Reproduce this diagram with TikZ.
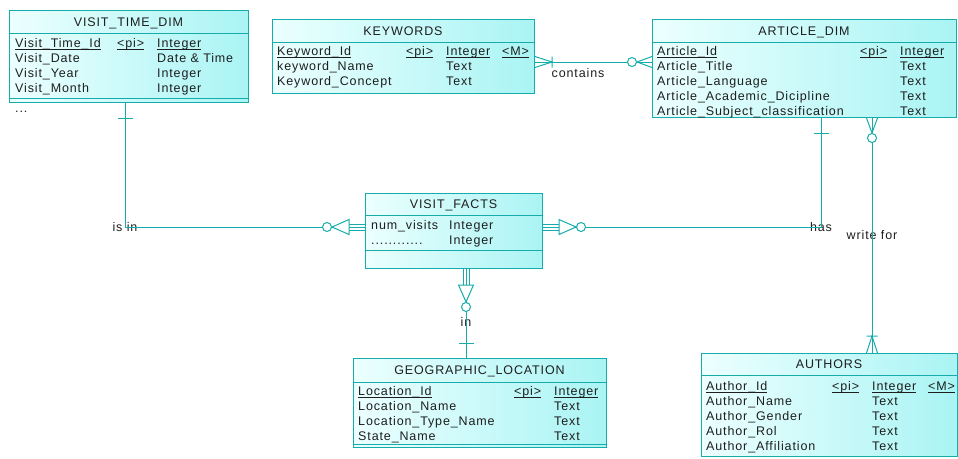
\documentclass[tikz,border=0pt]{standalone}
\usepackage{fontspec}
\setmainfont{Liberation Sans}[LetterSpace=7]
\usetikzlibrary{calc}
\definecolor{ErdTeal}{RGB}{22,172,172}
\definecolor{ErdPale}{RGB}{236,255,255}
\definecolor{ErdCyan}{RGB}{170,244,244}
\definecolor{ErdText}{RGB}{30,30,30}
\newcommand\erdkey[1]{\underline{\smash{#1}}}

\begin{document}
\begin{tikzpicture}[x=1pt,y=-1pt,font=\fontsize{12.5}{15}\selectfont,
  erdtable/.style={draw=ErdTeal,line width=1pt,left color=ErdPale,right color=ErdCyan,inner sep=0pt,anchor=north west},
  erdrule/.style={ErdTeal,line width=1pt},
  erdcell/.style={anchor=base west,inner sep=0pt,text=ErdText},
  erdtitle/.style={anchor=base,inner sep=0pt,text=ErdText},
  rel/.style={ErdTeal,line width=1pt},
  rlabel/.style={inner sep=0pt,text=ErdText},
  onebar/.pic={\draw[rel] (15,-7.5) -- (15,7.5);},
  depzero/.pic={
    \draw[rel] (0,-3) -- (16,-3) (0,0) -- (16,0) (0,3) -- (16,3);
    \draw[rel,fill=white] (16,-7.5) -- (33,0) -- (16,7.5) -- cycle;
    \draw[rel,fill=white] (38,0) circle (4.5pt);},
  onemany/.pic={\draw[rel] (0,-5.5) -- (17,0) -- (0,5.5) (17,-5.5) -- (17,5.5);},
  zeromany/.pic={
    \draw[rel] (0,-5.5) -- (15,0) -- (0,5.5);
    \draw[rel,fill=white] (20,0) circle (4.5pt);}]
  \useasboundingbox (0,0) rectangle (958,458);

  % VISIT_TIME_DIM
  \node[erdtable,minimum width=239pt,minimum height=92pt] (vtime) at (9,10) {};
  \draw[erdrule] (9,33) -- (248,33) (9,98) -- (248,98);
  \node[erdtitle] (vtime-t) at (128.5,26) {VISIT\_TIME\_DIM};
  \node[erdcell] (vtime-k) at (15,47.5) {\erdkey{Visit\_Time\_Id}};
  \node[erdcell] (vtime-kp) at (117,47.5) {\erdkey{<pi>}};
  \node[erdcell] (vtime-kt) at (157,47.5) {\erdkey{Integer}};
  \foreach \y/\nm/\ty [count=\i] in {62.5/Visit\_Date/Date \& Time, 77.5/Visit\_Year/Integer, 92.5/Visit\_Month/Integer} {
    \node[erdcell] (vtime-a\i) at (15,\y) {\nm};
    \node[erdcell] (vtime-b\i) at (157,\y) {\ty};
  }
  \node[erdcell] (vtime-more) at (15,112) {...};

  % KEYWORDS
  \node[erdtable,minimum width=262pt,minimum height=74pt] (keywords) at (272,19) {};
  \draw[erdrule] (272,42) -- (534,42);
  \node[erdtitle] (keywords-t) at (403,35) {KEYWORDS};
  \node[erdcell] (keywords-k) at (277,55.5) {\erdkey{Keyword\_Id}};
  \node[erdcell] (keywords-kp) at (406,55.5) {\erdkey{<pi>}};
  \node[erdcell] (keywords-kt) at (446,55.5) {\erdkey{Integer}};
  \node[erdcell] (keywords-km) at (502,55.5) {\erdkey{<M>}};
  \foreach \y/\nm/\ty [count=\i] in {70.5/keyword\_Name/Text, 85.5/Keyword\_Concept/Text} {
    \node[erdcell] (keywords-a\i) at (277,\y) {\nm};
    \node[erdcell] (keywords-b\i) at (446,\y) {\ty};
  }

  % ARTICLE_DIM
  \node[erdtable,minimum width=304pt,minimum height=98pt] (article) at (652,19) {};
  \draw[erdrule] (652,42) -- (956,42);
  \node[erdtitle] (article-t) at (804,35) {ARTICLE\_DIM};
  \node[erdcell] (article-k) at (657,55.5) {\erdkey{Article\_Id}};
  \node[erdcell] (article-kp) at (860,55.5) {\erdkey{<pi>}};
  \node[erdcell] (article-kt) at (900,55.5) {\erdkey{Integer}};
  \foreach \y/\nm/\ty [count=\i] in {70.5/Article\_Title/Text, 85.5/Article\_Language/Text,
      100.5/Article\_Academic\_Dicipline/Text, 115.5/Article\_Subject\_classification/Text} {
    \node[erdcell] (article-a\i) at (657,\y) {\nm};
    \node[erdcell] (article-b\i) at (900,\y) {\ty};
  }

  % VISIT_FACTS
  \node[erdtable,minimum width=177pt,minimum height=75pt] (facts) at (365,193) {};
  \draw[erdrule] (365,215) -- (542,215) (365,250) -- (542,250);
  \node[erdtitle] (facts-t) at (453.5,208.5) {VISIT\_FACTS};
  \foreach \y/\nm/\ty [count=\i] in {229.5/num\_visits/Integer, 244.5/{............}/Integer} {
    \node[erdcell] (facts-a\i) at (371,\y) {\nm};
    \node[erdcell] (facts-b\i) at (449,\y) {\ty};
  }

  % GEOGRAPHIC_LOCATION
  \node[erdtable,minimum width=253pt,minimum height=89pt] (geo) at (353,358) {};
  \draw[erdrule] (353,382) -- (606,382) (353,444) -- (606,444);
  \node[erdtitle] (geo-t) at (479.5,374.5) {GEOGRAPHIC\_LOCATION};
  \node[erdcell] (geo-k) at (358,395.5) {\erdkey{Location\_Id}};
  \node[erdcell] (geo-kp) at (514,395.5) {\erdkey{<pi>}};
  \node[erdcell] (geo-kt) at (554,395.5) {\erdkey{Integer}};
  \foreach \y/\nm/\ty [count=\i] in {410.5/Location\_Name/Text, 425.5/Location\_Type\_Name/Text, 440.5/State\_Name/Text} {
    \node[erdcell] (geo-a\i) at (358,\y) {\nm};
    \node[erdcell] (geo-b\i) at (554,\y) {\ty};
  }

  % AUTHORS
  \node[erdtable,minimum width=256pt,minimum height=103pt] (authors) at (701,353) {};
  \draw[erdrule] (701,375) -- (957,375);
  \node[erdtitle] (authors-t) at (829,368.5) {AUTHORS};
  \node[erdcell] (authors-k) at (706,390.5) {\erdkey{Author\_Id}};
  \node[erdcell] (authors-kp) at (832,390.5) {\erdkey{<pi>}};
  \node[erdcell] (authors-kt) at (872,390.5) {\erdkey{Integer}};
  \node[erdcell] (authors-km) at (928,390.5) {\erdkey{<M>}};
  \foreach \y/\nm/\ty [count=\i] in {405.5/Author\_Name/Text, 420.5/Author\_Gender/Text,
      435.5/Author\_Rol/Text, 450.5/Author\_Affiliation/Text} {
    \node[erdcell] (authors-a\i) at (706,\y) {\nm};
    \node[erdcell] (authors-b\i) at (872,\y) {\ty};
  }

  % relationships
  \node[rlabel] (isin) at (125,227) {is in};
  \draw[rel] (vtime.south -| isin) -- (isin.center) -- (facts.west |- isin);
  \node[rlabel] (has) at (821,227) {has};
  \draw[rel] (facts.east |- has) -- (has.center) -- (article.south -| has);
  \node[rlabel] (inloc) at (466,322) {in};
  \draw[rel] (facts.south -| inloc) -- (geo.north -| inloc);
  \node[rlabel] (contains) at (578,73) {contains};
  \coordinate (kwart) at (593,62);
  \draw[rel] (keywords.east |- kwart) -- (article.west |- kwart);
  \node[rlabel] (writefor) at (872,235) {write for};
  \draw[rel] (article.south -| writefor) -- (authors.north -| writefor);

  % cardinality ends
  \pic[rotate=-90] at (vtime.south -| isin) {onebar};
  \pic[rotate=180] at (facts.west |- isin) {depzero};
  \pic at (facts.east |- has) {depzero};
  \pic[rotate=-90] at (article.south -| has) {onebar};
  \pic[rotate=-90] at (facts.south -| inloc) {depzero};
  \pic[rotate=90] at (geo.north -| inloc) {onebar};
  \pic at (keywords.east |- kwart) {onemany};
  \pic[rotate=180] at (article.west |- kwart) {zeromany};
  \pic[rotate=-90] at (article.south -| writefor) {zeromany};
  \pic[rotate=90] at (authors.north -| writefor) {onemany};
\end{tikzpicture}
\end{document}
